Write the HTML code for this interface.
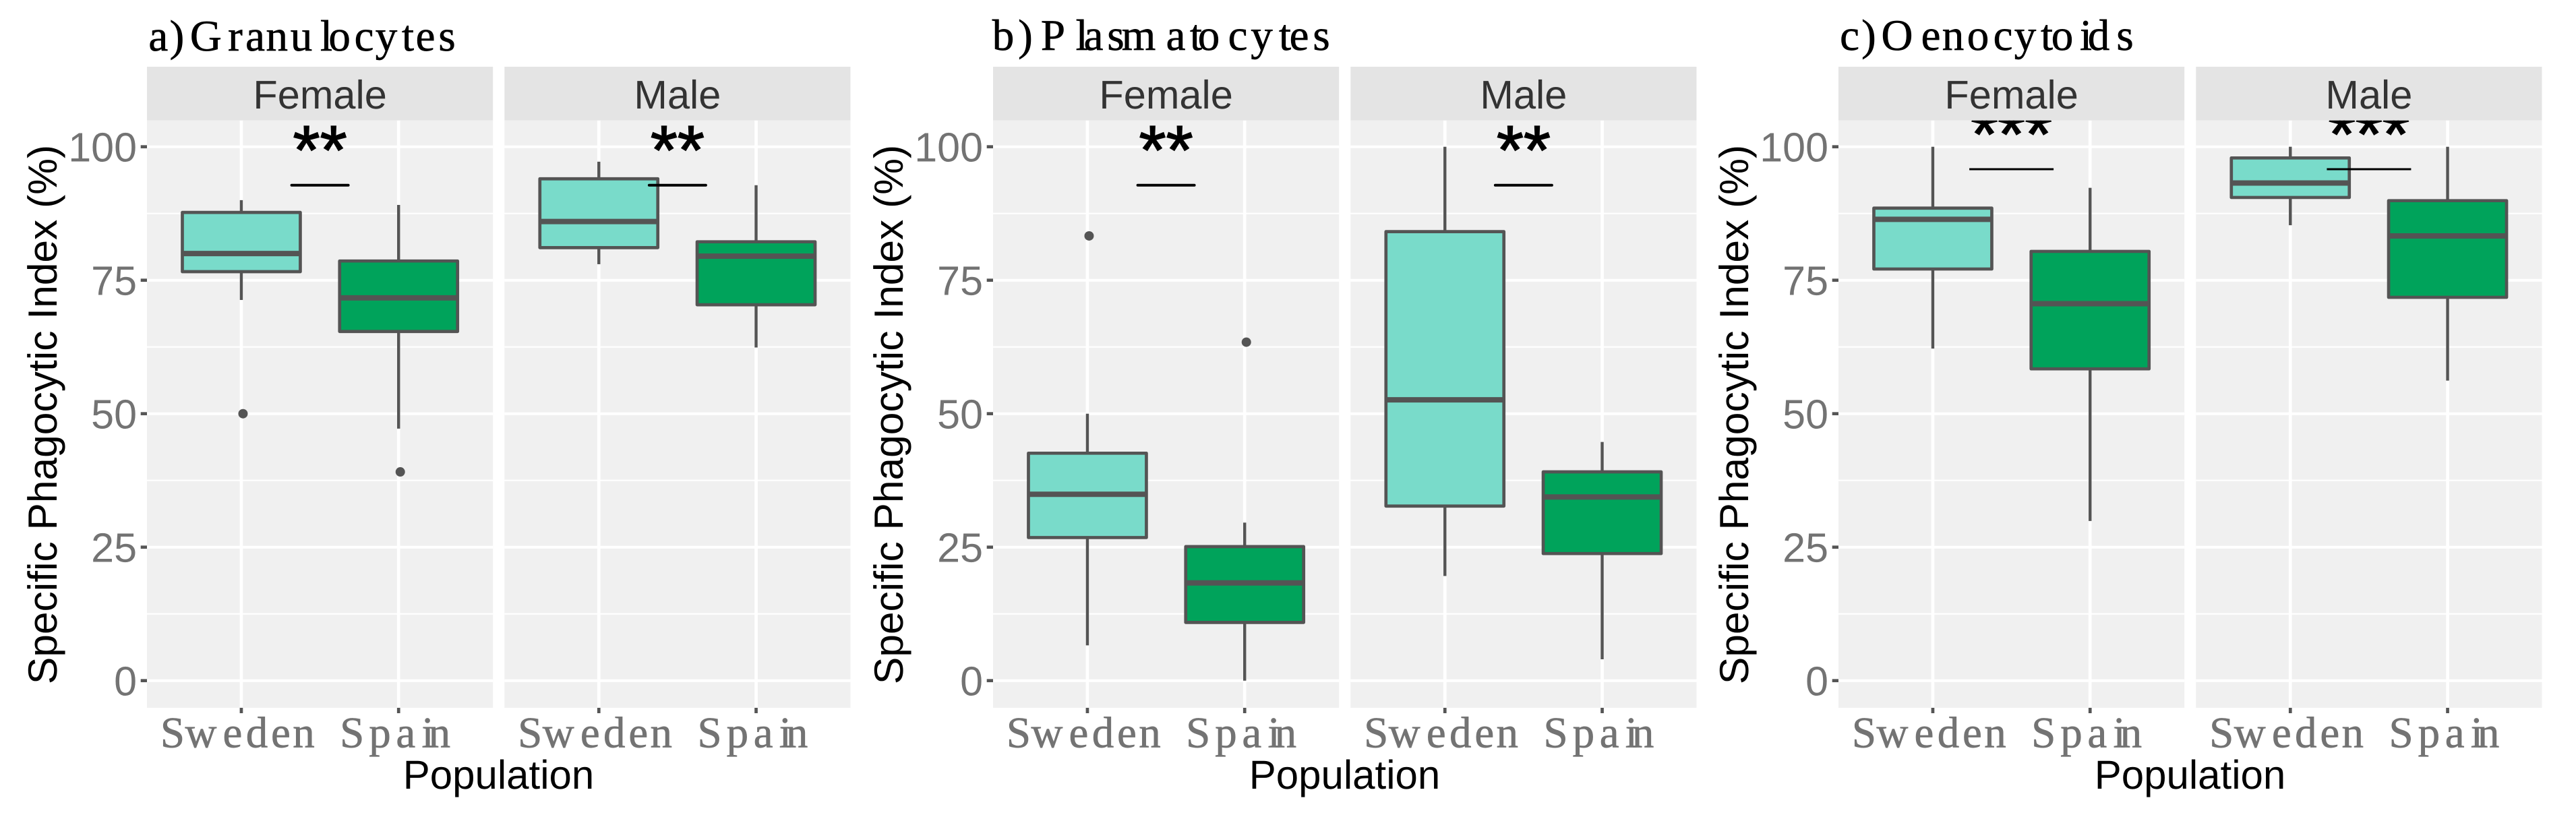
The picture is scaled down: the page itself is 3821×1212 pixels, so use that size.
<!DOCTYPE html>
<html lang="en">
<head>
<meta charset="utf-8">
<title>Specific Phagocytic Index by population and sex</title>
<style>
html,body{margin:0;padding:0;background:#fff;width:3821px;height:1212px;overflow:hidden}
svg{display:block}
text{text-rendering:geometricPrecision}
.sans{font-family:"Liberation Sans",Arial,sans-serif}
.slab{font-family:"Liberation Serif",serif}
</style>
</head>
<body>
<svg id="chart" xmlns="http://www.w3.org/2000/svg" width="3821" height="1212" viewBox="0 0 3821 1212"></svg>
<script>
// ---- Data (order: a Female, a Male, b Female, b Male, c Female, c Male; Sweden then Spain) ----
const plotTitles = ['a) Granulocytes', 'b) Plasmatocytes', 'c) Oenocytoids'];
const sexes = ['Female', 'Male'];
const populations = ['Sweden', 'Spain'];
const yTickLabels = [0, 25, 50, 75, 100];
const yMinorTicks = [12.5, 37.5, 62.5, 87.5];
const whiskerHigh = [90.0, 89.1, 97.2, 92.8, 50.0, 29.6, 100, 44.7, 100, 92.3, 100, 100];
const quartile3 = [87.7, 78.6, 94.0, 82.2, 42.6, 25.1, 84.1, 39.1, 88.5, 80.4, 97.9, 89.9];
const medians = [80.0, 71.7, 86.0, 79.5, 34.9, 18.3, 52.6, 34.4, 86.4, 70.6, 93.2, 83.3];
const quartile1 = [76.6, 65.4, 81.1, 70.4, 26.8, 10.9, 32.7, 23.8, 77.1, 58.4, 90.5, 71.8];
const whiskerLow = [71.3, 47.2, 78.0, 62.4, 6.6, 0.0, 19.6, 4.0, 62.2, 29.9, 85.3, 56.2];
const outliers = [[50.0], [39.1], [], [], [83.3], [63.4], [], [], [], [], [], []];
const significanceLabels = ['**', '**', '**', '**', '***', '***'];
const significanceLevels = [92.8, 92.8, 92.8, 92.8, 95.8, 95.8];

// ---- Layout and axis functions ----
const NS = 'http://www.w3.org/2000/svg';
const root = document.getElementById('chart');
const PANEL_TOP = 178.7, PANEL_BOTTOM = 1050, PANEL_W = 513.2, STRIP_TOP = 99;
const plotShift = [0, 1255, 2509];
const facetShift = [218, 748.3];
const UNIT_X = PANEL_W / 2.2;
const yAxis = v => 1009.7 - v * 7.92;
const xAxis = (left, i) => left + (0.6 + i) * UNIT_X;
const popFill = ['#79DBCA', '#00A35B'];
const LINE = '#545454';

function make(tag, attrs, parent) {
  const el = document.createElementNS(NS, tag);
  for (const k in attrs) el.setAttribute(k, attrs[k]);
  (parent || root).appendChild(el);
  return el;
}

const defs = make('defs', {});



// Glyph placement helpers for the wide-set title and category fonts
const titleGlyphCentres = [
  [234.8, 262.5, 284, 305.4, 349, 378.6, 410.7, 447, 484, 503.6, 540, 573, 605, 631, 663],
  [1488, 1521, 1541, 1562, 1604.6, 1622, 1655, 1689, 1744, 1774, 1793, 1836, 1871.5, 1906, 1927, 1960],
  [2743.5, 2772, 2793, 2814, 2864, 2897, 2934, 2971, 3004, 3036, 3059, 3094, 3113, 3152]
];
const titleBaselines = [75, 74, 74];
const categoryGlyphOffsets = [
  [-102, -60, -13, 23, 58.5, 92.5],
  [-69, -27.7, 10.6, 43.3, 60.6]
];

plotTitles.forEach((title, t) => {
  const group = make('g', {});
  
  

  const titleEl = make('text', {
    class: 'slab', x: titleGlyphCentres[t].join(' '), y: titleBaselines[t],
    'text-anchor': 'middle', 'font-size': 65, fill: '#000', stroke: '#000', 'stroke-width': 0.7
  }, group);
  
  
  titleEl.setAttribute('xml:space', 'preserve');
  titleEl.textContent = title;

  const shift = plotShift[t];
  const yTitleX = 84 + shift;
  const yTitle = make('text', {
    class: 'sans', x: 0, y: 0, transform: 'translate(' + yTitleX + ' 615) rotate(-90)',
    'text-anchor': 'middle', 'font-size': 60.5, fill: '#000'
  }, group);
  
  
  yTitle.textContent = 'Specific Phagocytic Index (%)';

  yTickLabels.forEach(v => {
    const label = make('text', {
      class: 'sans', x: 203 + shift, y: yAxis(v) + 22, 'text-anchor': 'end',
      'font-size': 61, fill: '#737373'
    }, group);
    
    
    label.textContent = v;

    const tick = make('line', {
      x1: 208.7 + shift, x2: 218 + shift, y1: yAxis(v), y2: yAxis(v),
      stroke: '#555', 'stroke-width': 4.7
    }, group);
    
    
  });

  const xTitle = make('text', {
    class: 'sans', x: 739.5 + shift, y: 1170, 'text-anchor': 'middle',
    'font-size': 60, fill: '#000'
  }, group);
  
  
  xTitle.textContent = 'Population';

  sexes.forEach((sex, s) => {
    const left = facetShift[s] + shift;
    const right = left + PANEL_W;
    const facetIndex = t * 2 + s;

    const facet = make('g', {}, group);
    
    

    const strip = make('rect', { x: left, y: STRIP_TOP, width: PANEL_W, height: PANEL_TOP - STRIP_TOP, fill: '#E4E4E4' }, facet);
    
    

    const stripLabel = make('text', {
      class: 'sans', x: left + PANEL_W / 2, y: 161, 'text-anchor': 'middle',
      'font-size': 59.5, fill: '#333'
    }, facet);
    
    
    stripLabel.textContent = sex;

    const panel = make('rect', { x: left, y: PANEL_TOP, width: PANEL_W, height: PANEL_BOTTOM - PANEL_TOP, fill: '#F0F0F0' }, facet);
    
    

    yMinorTicks.forEach(v => {
      const g = make('line', { x1: left, x2: right, y1: yAxis(v), y2: yAxis(v), stroke: '#fff', 'stroke-width': 2.2 }, facet);
      
      
    });
    yTickLabels.forEach(v => {
      const g = make('line', { x1: left, x2: right, y1: yAxis(v), y2: yAxis(v), stroke: '#fff', 'stroke-width': 4 }, facet);
      
      
    });

    populations.forEach((pop, p) => {
      const cx = xAxis(left, p);
      const g = make('line', { x1: cx, x2: cx, y1: PANEL_TOP, y2: PANEL_BOTTOM, stroke: '#fff', 'stroke-width': 4.7 }, facet);
      
      

      const tick = make('line', { x1: cx, x2: cx, y1: PANEL_BOTTOM, y2: PANEL_BOTTOM + 8, stroke: '#555', 'stroke-width': 4.7 }, facet);
      
      

      const label = make('text', {
        class: 'slab', x: categoryGlyphOffsets[p].map(o => cx + o).join(' '), y: 1108.5,
        'text-anchor': 'middle', 'font-size': 65, fill: '#737373', stroke: '#737373', 'stroke-width': 0.7
      }, facet);
      
      
      label.textContent = pop;
    });

    populations.forEach((pop, p) => {
      const i = facetIndex * 2 + p;
      const cx = xAxis(left, p);
      const halfBox = 0.375 * UNIT_X;

      const box = make('g', {}, facet);
      
      

      const upper = make('line', { x1: cx, x2: cx, y1: yAxis(whiskerHigh[i]), y2: yAxis(quartile3[i]), stroke: LINE, 'stroke-width': 4.4 }, box);
      
      

      const lower = make('line', { x1: cx, x2: cx, y1: yAxis(quartile1[i]), y2: yAxis(whiskerLow[i]), stroke: LINE, 'stroke-width': 4.4 }, box);
      
      

      const rect = make('rect', {
        x: cx - halfBox, y: yAxis(quartile3[i]), width: halfBox * 2,
        height: yAxis(quartile1[i]) - yAxis(quartile3[i]),
        fill: popFill[p], stroke: LINE, 'stroke-width': 4.7, 'stroke-linejoin': 'round'
      }, box);
      
      

      const med = make('line', { x1: cx - halfBox, x2: cx + halfBox, y1: yAxis(medians[i]), y2: yAxis(medians[i]), stroke: LINE, 'stroke-width': 8 }, box);
      
      

      outliers[i].forEach(v => {
        const dot = make('circle', { cx: cx + 2.5, cy: yAxis(v), r: 7, fill: LINE }, box);
        
        
      });
    });

    // Significance bracket and stars (stars are clipped to the panel)
    const level = significanceLevels[facetIndex];
    const stars = significanceLabels[facetIndex];
    const triple = stars.length === 3;
    const mid = left + PANEL_W / 2;
    const halfLen = triple ? 62.5 : 42;
    const bar = make('line', {
      x1: mid - halfLen, x2: mid + halfLen, y1: yAxis(level), y2: yAxis(level),
      stroke: '#000', 'stroke-width': triple ? 3 : 4, 'stroke-linecap': triple ? 'butt' : 'round'
    }, facet);
    
    

    const clipId = 'panel-clip-' + facetIndex;
    const clip = make('clipPath', { id: clipId }, defs);
    
    
    const clipRect = make('rect', { x: left, y: PANEL_TOP, width: PANEL_W, height: PANEL_BOTTOM - PANEL_TOP }, clip);
    
    

    const starText = make('text', {
      class: 'sans', x: mid, y: yAxis(level) - 16.5, 'text-anchor': 'middle',
      'font-size': 103, fill: '#000', stroke: '#000', 'stroke-width': 1.6, 'clip-path': 'url(#' + clipId + ')'
    }, facet);
    
    
    starText.textContent = stars;
  });
});
</script>
</body>
</html>
